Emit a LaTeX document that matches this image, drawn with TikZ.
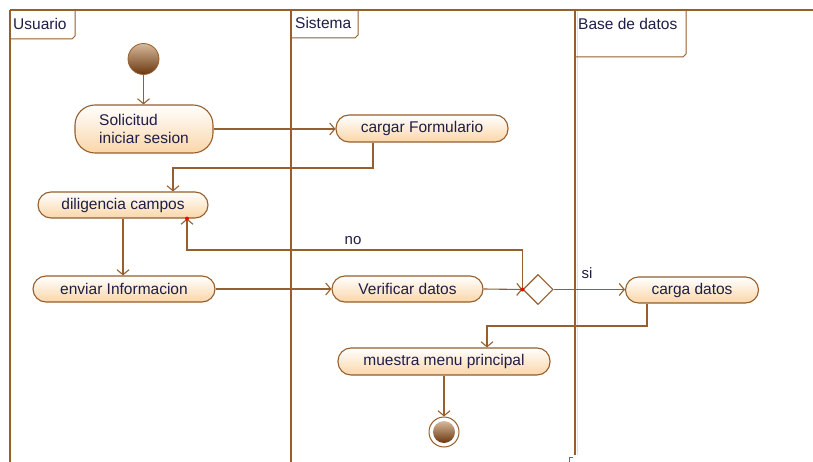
\documentclass[tikz,border=0pt]{standalone}
\usepackage{fontspec}
\setmainfont{Liberation Sans}
\usetikzlibrary{arrows.meta,shapes.geometric}
\definecolor{umlbrown}{RGB}{150,95,45}
\definecolor{umlpeach}{RGB}{250,214,168}
\definecolor{umltext}{RGB}{30,30,70}
\definecolor{umldark}{RGB}{105,55,15}
\definecolor{umllight}{RGB}{215,185,155}
\tikzset{
  lane/.style={draw=umlbrown, line width=1.2pt},
  lanetitle/.style={anchor=west, inner sep=0pt, font=\fontsize{15.5}{18}\selectfont, text=umltext},
  act/.style={rectangle, rounded corners=13pt, draw=umlbrown, line width=1.1pt,
    top color=white, bottom color=umlpeach, inner sep=0pt,
    font=\fontsize{15.5}{18}\selectfont, text=umltext},
  decision/.style={diamond, draw=umlbrown, line width=1.1pt, fill=white, aspect=1,
    minimum width=30pt, minimum height=30pt, inner sep=0pt},
  flow/.style={draw=umlbrown, line width=1.1pt, -{Straight Barb[length=5pt,width=12pt]}},
  guard/.style={inner sep=0pt, font=\fontsize{15}{17}\selectfont, text=umltext},
  hit/.style={fill=red, draw=none, circle, minimum size=4pt, inner sep=0pt}
}
\begin{document}
\begin{tikzpicture}[x=1pt, y=-1pt]
\useasboundingbox (0,0) rectangle (813,462);
\fill[white] (0,0) rectangle (813,462);

% swimlanes
\draw[gray!25, line width=0.8pt] (577.5,11) -- (577.5,455);
\draw[lane] (10,10) -- (813,10);
\draw[lane] (10,10) -- (10,462);
\draw[lane] (291,10) -- (291,462);
\draw[lane] (575,10) -- (575,455);
\draw[umlbrown, line width=0.8pt] (569,462) -- (569,457) -- (573,457);

% lane title tabs
\draw[lane, line width=1pt] (10,39) -- (72,39) -- (75,36) -- (75,10);
\draw[lane, line width=1pt] (291,38) -- (355,38) -- (358,35) -- (358,10);
\draw[lane, line width=1pt] (575,57) -- (683,57) -- (686,54) -- (686,10);
\node[lanetitle] (tU) at (13,24) {Usuario};
\node[lanetitle] (tS) at (295,23) {Sistema};
\node[lanetitle] (tB) at (578,24) {Base de datos};

% initial and final states
\node[circle, minimum size=31pt, inner sep=0pt, draw=umlbrown, line width=0.8pt,
      top color=umllight, bottom color=umldark] (init) at (143.5,59) {};
\node[circle, minimum size=30pt, inner sep=0pt, draw=umlbrown, line width=1pt, fill=white] (fin) at (444,432) {};
\node[circle, minimum size=22pt, inner sep=0pt, top color=umllight, bottom color=umldark] (finin) at (fin) {};

% actions
\node[act, minimum width=138pt, minimum height=48pt, rounded corners=20pt, align=left] (sol) at (144,129) {Solicitud\\iniciar sesion};
\node[act, minimum width=172pt, minimum height=27pt] (carg) at (422,128.5) {cargar Formulario};
\node[act, minimum width=170pt, minimum height=26pt] (dil) at (123,205) {diligencia campos};
\node[act, minimum width=182pt, minimum height=26pt] (env) at (124,289) {enviar Informacion};
\node[act, minimum width=151pt, minimum height=26pt] (ver) at (407.5,289) {Verificar datos};
\node[decision] (dec) at (538,289.5) {};
\node[act, minimum width=133pt, minimum height=26pt] (cdat) at (692,290) {carga datos};
\node[act, minimum width=212pt, minimum height=27pt] (mue) at (444,361.5) {muestra menu principal};

% bend points
\coordinate (c1) at (373,168);
\coordinate (c2) at (173,168);
\coordinate (n1) at (187,250);
\coordinate (m1) at (647,326);
\coordinate (m2) at (487,326);

% control flow
\draw[flow] (init.south) -- (init.south |- sol.north);
\draw[flow] (sol.east) -- (sol.east -| carg.west);
\draw[flow] (carg.south -| c1) -- (c1) -- (c2) -- (c2 |- dil.north);
\draw[flow] (dil.south) -- (dil.south |- env.north);
\draw[flow] (env.east) -- (env.east -| ver.west);
\draw[flow] (ver.east) -- (dec.west);
\draw[flow] (dec.west) |- (n1) -- (n1 |- dil.south);
\draw[flow] (dec.east) -- (dec.east -| cdat.west);
\draw[flow] (cdat.south -| m1) -- (m1) -- (m2) -- (m2 |- mue.north);
\draw[flow] (mue.south) -- (fin.north);

% guards
\node[guard] (gno) at (353,241) {no};
\node[guard] (gsi) at (587,273) {si};

% selection markers
\node[hit] (h1) at (n1 |- dil.south) {};
\node[hit] (h2) at (dec.west) {};
\end{tikzpicture}
\end{document}
